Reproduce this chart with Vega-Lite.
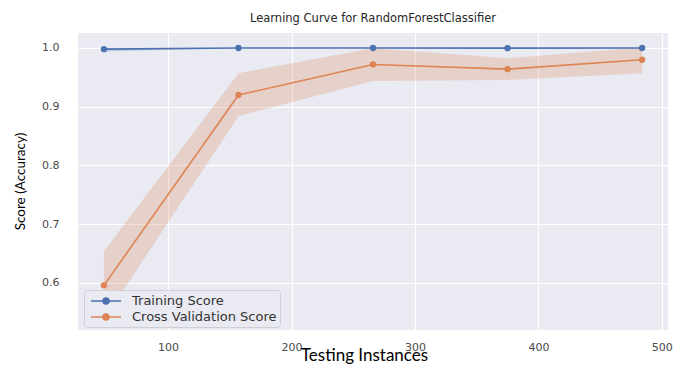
{
  "$schema": "https://vega.github.io/schema/vega-lite/v6.json",
  "autosize": {"type": "none"},
  "padding": {"left": 78, "top": 33, "right": 5, "bottom": 37},
  "width": 590,
  "height": 297,
  "background": "white",
  "title": {
    "text": "Learning Curve for RandomForestClassifier",
    "font": "DejaVu Sans",
    "fontSize": 11.5,
    "fontWeight": "normal",
    "color": "#262626",
    "anchor": "middle",
    "offset": 9
  },
  "data": {
    "values": [
      {"series": "Training Score", "size": 48, "score": 0.998, "lo": 0.994, "hi": 1.0},
      {"series": "Training Score", "size": 157, "score": 1.0, "lo": 1.0, "hi": 1.0},
      {"series": "Training Score", "size": 266, "score": 1.0, "lo": 1.0, "hi": 1.0},
      {"series": "Training Score", "size": 375, "score": 0.9997, "lo": 0.9993, "hi": 1.0},
      {"series": "Training Score", "size": 484, "score": 1.0, "lo": 1.0, "hi": 1.0},
      {"series": "Cross Validation Score", "size": 48, "score": 0.596, "lo": 0.538, "hi": 0.654},
      {"series": "Cross Validation Score", "size": 157, "score": 0.92, "lo": 0.884, "hi": 0.957},
      {"series": "Cross Validation Score", "size": 266, "score": 0.972, "lo": 0.944, "hi": 0.9995},
      {"series": "Cross Validation Score", "size": 375, "score": 0.964, "lo": 0.9455, "hi": 0.9825},
      {"series": "Cross Validation Score", "size": 484, "score": 0.98, "lo": 0.957, "hi": 1.001}
    ]
  },
  "encoding": {
    "x": {
      "field": "size",
      "type": "quantitative",
      "scale": {"domain": [27, 505], "nice": false, "zero": false},
      "axis": {
        "values": [100, 200, 300, 400, 500],
        "title": "Testing Instances",
        "titleFont": "Lato",
        "titleFontSize": 17,
        "titleFontWeight": "normal",
        "titleColor": "#000000",
        "titleX": 286,
        "titleY": 25,
        "titleBaseline": "middle",
        "titleAlign": "center",
        "labelPadding": 11,
        "labelFontSize": 11,
        "labelFont": "DejaVu Sans",
        "labelColor": "#4a4a4a"
      }
    },
    "color": {
      "field": "series",
      "type": "nominal",
      "scale": {
        "domain": ["Training Score", "Cross Validation Score"],
        "range": ["#4C72B0", "#DD8452"]
      },
      "legend": {
        "title": null,
        "orient": "none",
        "legendX": 6,
        "legendY": 257,
        "symbolType": "M-2.14,0L2.14,0M-0.42,0A0.42,0.42 0 1,1 0.42,0A0.42,0.42 0 1,1 -0.42,0Z",
        "symbolSize": 196,
        "symbolOffset": 11,
        "symbolStrokeWidth": 1.6,
        "symbolOpacity": 1,
        "labelFont": "DejaVu Sans",
        "labelFontSize": 13,
        "labelColor": "#333333",
        "labelOffset": 18,
        "rowPadding": 1,
        "padding": 3,
        "strokeColor": "#cfcfd6",
        "fillColor": "#EAEAF2",
        "cornerRadius": 3
      }
    }
  },
  "layer": [
    {
      "mark": {"type": "area", "opacity": 0.25, "clip": true},
      "encoding": {
        "y": {"field": "lo", "type": "quantitative"},
        "y2": {"field": "hi"}
      }
    },
    {
      "mark": {"type": "line", "strokeWidth": 1.6, "clip": true},
      "encoding": {
        "y": {"field": "score", "type": "quantitative"}
      }
    },
    {
      "mark": {"type": "point", "filled": true, "size": 40, "opacity": 1, "clip": true},
      "encoding": {
        "y": {
          "field": "score",
          "type": "quantitative",
          "scale": {"domain": [0.52, 1.0255], "nice": false, "zero": false},
          "axis": {
            "values": [0.6, 0.7, 0.8, 0.9, 1.0],
            "format": ".1f",
            "title": "Score (Accuracy)",
            "titleFont": "Lato",
            "titleFontSize": 13.5,
            "titleFontWeight": "normal",
            "titleColor": "#000000",
            "titleAngle": -90,
            "titleX": -58,
            "titleY": 148,
            "titleBaseline": "middle",
            "titleAlign": "center",
            "labelPadding": 19,
            "labelFontSize": 11,
            "labelFont": "DejaVu Sans",
            "labelColor": "#4a4a4a"
          }
        }
      }
    }
  ],
  "config": {
    "view": {"fill": "#EAEAF2", "stroke": null},
    "axis": {
      "grid": true,
      "gridColor": "#ffffff",
      "gridWidth": 1.2,
      "domain": false,
      "ticks": false
    }
  }
}
